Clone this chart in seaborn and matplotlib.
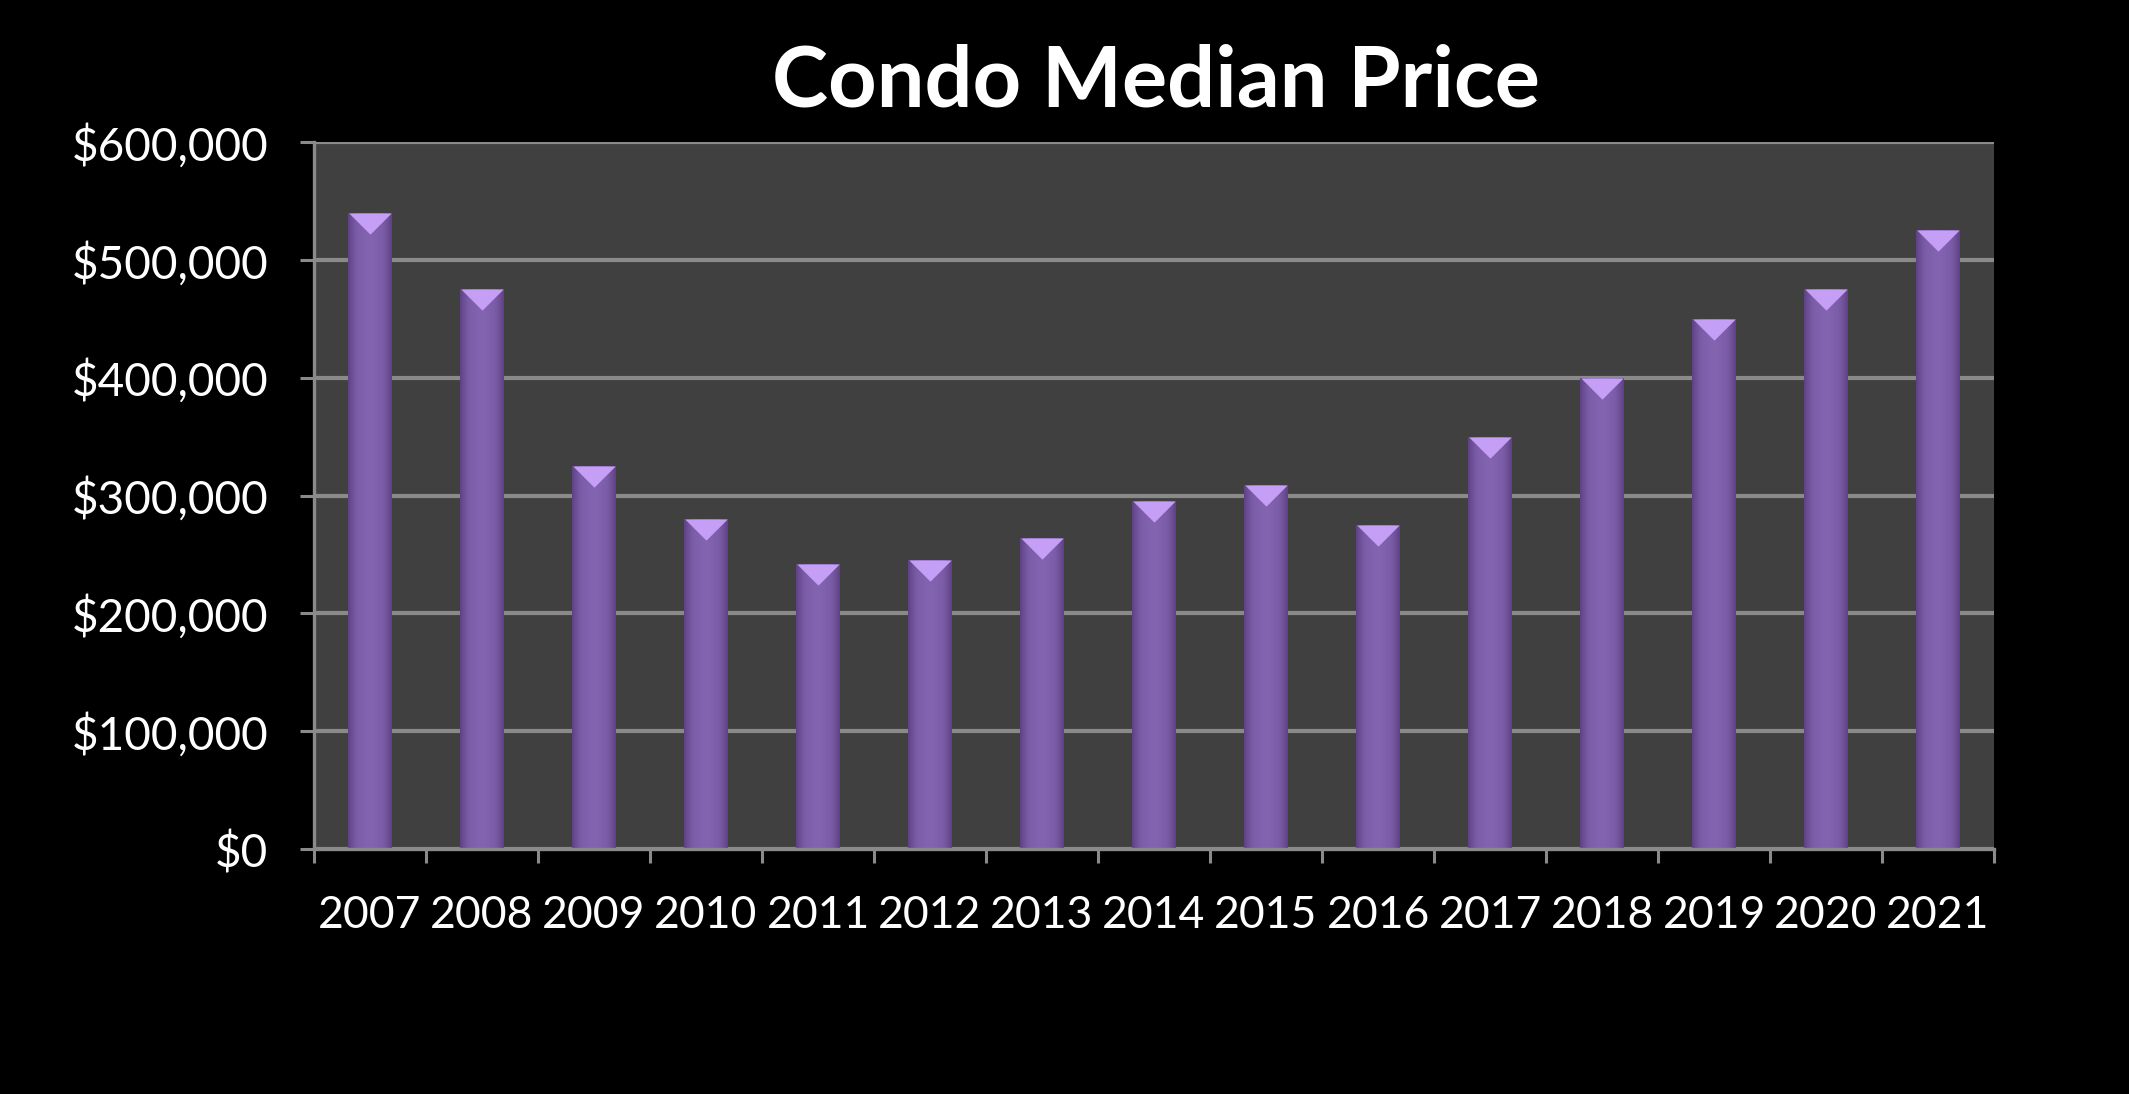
"""Condo median price bar chart"""
import numpy as np
import pandas as pd
import seaborn as sns
import matplotlib
matplotlib.use("Agg")
import matplotlib.pyplot as plt
from matplotlib.ticker import StrMethodFormatter, FixedLocator

years = ['2007', '2008', '2009', '2010', '2011', '2012', '2013', '2014',
         '2015', '2016', '2017', '2018', '2019', '2020', '2021']
median_price = [540000, 475000, 325000, 280000, 242000, 245000, 264000, 295000,
                309000, 275000, 350000, 400000, 450000, 475000, 525000]
y_ticks = [0, 100000, 200000, 300000, 400000, 500000, 600000]

sns.set_style('dark')
plt.rcParams['font.family'] = ['Lato', 'DejaVu Sans']

grid_gray = '#8a8a8a'
df = pd.DataFrame({'Year': years, 'Price': median_price})

fig = plt.figure(figsize=(21.29, 10.94), dpi=100, facecolor='black')
ax = fig.add_axes([0.1475, 0.2239, 0.7891, 0.6463])
ax.set_facecolor('#404040')

sns.barplot(data=df, x='Year', y='Price', color='#7b5ca6', width=0.385,
            saturation=1, ax=ax, zorder=3, edgecolor='none', linewidth=0)

# cylinder-like shading on each bar
shade = np.array([0.0, 0.35, 0.6, 0.8, 0.9, 0.8, 0.6, 0.35, 0.0])
cmap = matplotlib.colors.LinearSegmentedColormap.from_list(
    'bar', ['#5f4386', '#7b5ca8', '#8566b3'])
for patch in ax.patches:
    x0, w, h = patch.get_x(), patch.get_width(), patch.get_height()
    im = ax.imshow(np.interp(np.linspace(0, 8, 60), np.arange(9), shade)[None, :],
                   extent=[x0, x0 + w, 0, h], aspect='auto', cmap=cmap,
                   vmin=0, vmax=1, zorder=3.5, origin='lower')
    im.set_clip_path(patch)

# light bevel on the top of each bar
cap = [(-1, 0), (1, 0), (0, -1)]
ax.plot(np.arange(len(years)), median_price, linestyle='none', marker=cap,
        markersize=30.5, color='#c59ef5', markeredgewidth=0, zorder=4)

ax.set_xlim(-0.5, len(years) - 0.5)
ax.set_ylim(0, 600000)
ax.set_yticks(y_ticks)
ax.yaxis.set_major_formatter(StrMethodFormatter('${x:,.0f}'))

ax.xaxis.set_major_locator(FixedLocator(np.arange(len(years) + 1) - 0.5))
ax.xaxis.set_minor_locator(FixedLocator(np.arange(len(years))))
ax.set_xticklabels([], minor=False)
ax.set_xticklabels(years, minor=True)
ax.tick_params(axis='x', which='major', length=10, width=2.2, color=grid_gray,
               direction='out', bottom=True)
ax.tick_params(axis='x', which='minor', length=0, pad=33, labelsize=32,
               labelcolor='white')
ax.tick_params(axis='y', length=10, width=2.2, color=grid_gray, left=True,
               direction='out', pad=23, labelsize=33, labelcolor='white')

ax.grid(axis='y', color=grid_gray, linewidth=3, zorder=1)
ax.set_axisbelow(True)
for side in ['top', 'right']:
    ax.spines[side].set_visible(False)
for side in ['left', 'bottom']:
    ax.spines[side].set_visible(True)
    ax.spines[side].set_color(grid_gray)
    ax.spines[side].set_linewidth(2.4)
    ax.spines[side].set_zorder(5)

ax.set_xlabel('')
ax.set_ylabel('')
fig.text(0.543, 0.903, 'Condo Median Price', ha='center', va='baseline',
         fontsize=61, fontweight='bold', color='white')

fig.savefig('out.png', dpi=100, facecolor='black')
plt.close(fig)
